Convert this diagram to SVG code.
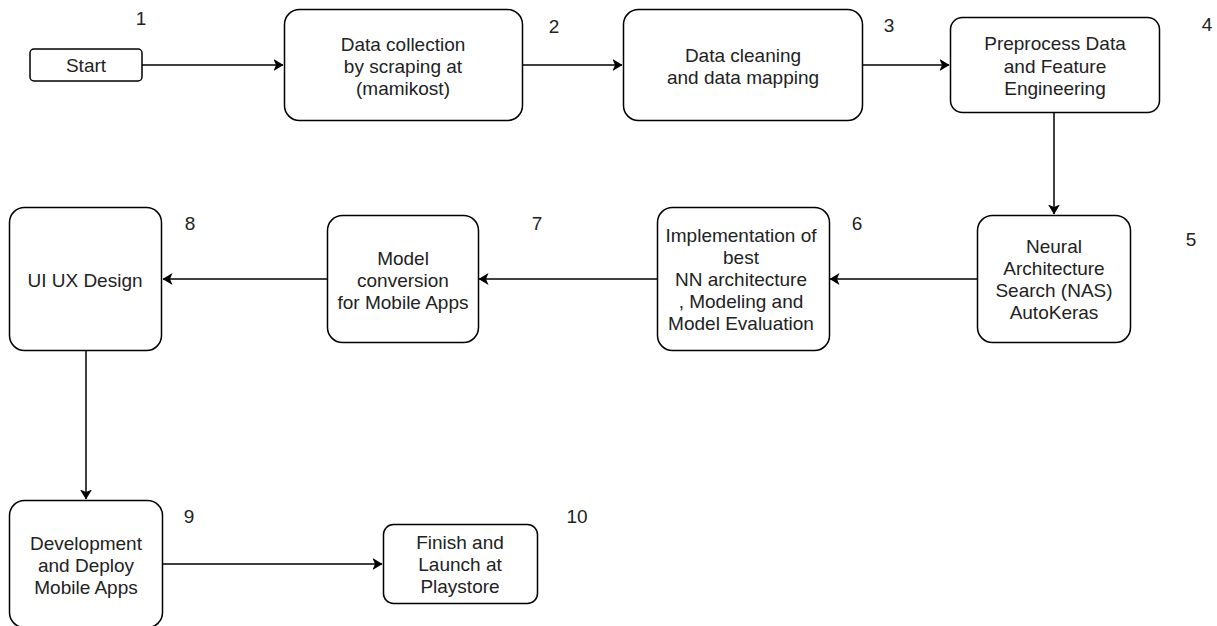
<svg xmlns="http://www.w3.org/2000/svg" width="1217" height="626" viewBox="0 0 1217 626">
<style>
  rect.n { fill: #fff; stroke: #000; stroke-width: 1.5; }
  text { font-family: "Liberation Sans", Arial, sans-serif; font-size: 19px; fill: #222; text-anchor: middle; }
  text.num { text-anchor: middle; }
  .c { fill: none; stroke: #000; stroke-width: 1.5; }
</style>
<defs>
  <marker id="ah" viewBox="0 0 10 12" refX="9.5" refY="6" markerWidth="10" markerHeight="12" markerUnits="userSpaceOnUse" orient="auto">
    <path d="M0,0 L10,6 L0,12 L2.5,6 Z" fill="#000"/>
  </marker>
</defs>
<rect width="1217" height="626" fill="#fff"/>
<g id="connectors">
  <path class="c" d="M142,65 H283" marker-end="url(#ah)"/>
  <path class="c" d="M523,65 H622" marker-end="url(#ah)"/>
  <path class="c" d="M863,65 H949" marker-end="url(#ah)"/>
  <path class="c" d="M1054,113 V214" marker-end="url(#ah)"/>
  <path class="c" d="M977,279 H830" marker-end="url(#ah)"/>
  <path class="c" d="M657,279 H479" marker-end="url(#ah)"/>
  <path class="c" d="M327,279 H163" marker-end="url(#ah)"/>
  <path class="c" d="M86,350 V499" marker-end="url(#ah)"/>
  <path class="c" d="M163,564 H382" marker-end="url(#ah)"/>
</g>
<g id="n1">
  <rect class="n" x="30" y="49" width="112" height="32" rx="4"/>
  <text x="86" y="72">Start</text>
  <text class="num" x="141" y="25">1</text>
</g>
<g id="n2">
  <rect class="n" x="284.5" y="9.5" width="238" height="111" rx="15"/>
  <text x="403" y="51">Data collection</text>
  <text x="403" y="73">by scraping at</text>
  <text x="403" y="95">(mamikost)</text>
  <text class="num" x="554" y="33">2</text>
</g>
<g id="n3">
  <rect class="n" x="623.5" y="9.5" width="239" height="111" rx="15"/>
  <text x="743" y="62">Data cleaning</text>
  <text x="743" y="84">and data mapping</text>
  <text class="num" x="889" y="32">3</text>
</g>
<g id="n4">
  <rect class="n" x="950.5" y="17.5" width="209" height="95" rx="12"/>
  <text x="1055" y="50">Preprocess Data</text>
  <text x="1055" y="73">and Feature</text>
  <text x="1055" y="95">Engineering</text>
  <text class="num" x="1207" y="31">4</text>
</g>
<g id="n5">
  <rect class="n" x="977.5" y="215.5" width="153" height="127" rx="15"/>
  <text x="1054" y="253">Neural</text>
  <text x="1054" y="275">Architecture</text>
  <text x="1054" y="297">Search (NAS)</text>
  <text x="1054" y="319">AutoKeras</text>
  <text class="num" x="1191" y="246">5</text>
</g>
<g id="n6">
  <rect class="n" x="657.5" y="207.5" width="172" height="143" rx="15"/>
  <text x="741" y="242">Implementation of</text>
  <text x="741" y="264">best</text>
  <text x="741" y="286">NN architecture</text>
  <text x="741" y="308">, Modeling and</text>
  <text x="741" y="330">Model Evaluation</text>
  <text class="num" x="857" y="230">6</text>
</g>
<g id="n7">
  <rect class="n" x="327.5" y="215.5" width="151" height="127" rx="15"/>
  <text x="403" y="265">Model</text>
  <text x="403" y="287">conversion</text>
  <text x="403" y="309">for Mobile Apps</text>
  <text class="num" x="537" y="230">7</text>
</g>
<g id="n8">
  <rect class="n" x="9.5" y="207.5" width="152" height="143" rx="15"/>
  <text x="85" y="287">UI UX Design</text>
  <text class="num" x="190" y="230">8</text>
</g>
<g id="n9">
  <rect class="n" x="9.5" y="500.5" width="153" height="127" rx="15"/>
  <text x="86" y="550">Development</text>
  <text x="86" y="572">and Deploy</text>
  <text x="86" y="594">Mobile Apps</text>
  <text class="num" x="189" y="523">9</text>
</g>
<g id="n10">
  <rect class="n" x="383.5" y="524.5" width="154" height="79" rx="10"/>
  <text x="460" y="549">Finish and</text>
  <text x="460" y="571">Launch at</text>
  <text x="460" y="593">Playstore</text>
  <text class="num" x="577" y="523">10</text>
</g>
</svg>
